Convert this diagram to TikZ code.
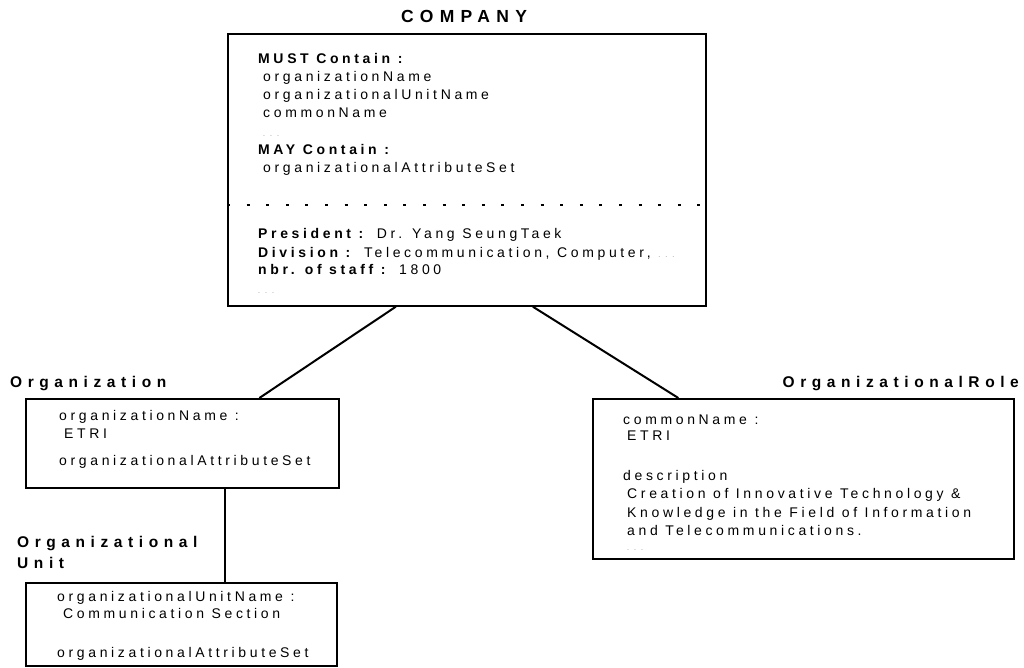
\documentclass[tikz,border=0pt]{standalone}
\usepackage{fontspec}
\setmainfont{Liberation Sans}
\newfontfamily\bodyfont[LetterSpace=26]{Liberation Sans}
\newfontfamily\titlefont[LetterSpace=36]{Liberation Sans}
\usepackage{tikz}
\usetikzlibrary{calc}
\newcommand{\moredots}{{\fontsize{7}{7}\selectfont\color{gray}. . .}}
\tikzstyle{box} = [rectangle, draw, line width=1.7pt, anchor=north west, inner sep=0pt]
\tikzstyle{attr} = [anchor=base west, inner sep=0pt, font=\bodyfont\fontsize{14}{18}\selectfont]
\tikzstyle{key} = [attr, font=\bodyfont\bfseries\fontsize{14}{18}\selectfont]
\tikzstyle{title} = [anchor=base west, inner sep=0pt, font=\titlefont\bfseries\fontsize{15.5}{20}\selectfont]
\tikzstyle{line} = [draw, line width=2pt]

\begin{document}
\begin{tikzpicture}[x=1pt, y=-1pt]
      \useasboundingbox (0,0) rectangle (1024,668);
      % Boxes
      \node [box, minimum width=478pt, minimum height=272pt] (company) at (227,33) {};
      \node [box, minimum width=313pt, minimum height=89pt] (organization) at (25,398) {};
      \node [box, minimum width=311pt, minimum height=83pt] (unit) at (25,582) {};
      \node [box, minimum width=421pt, minimum height=160pt] (role) at (592,398) {};
      % Titles
      \node [title, anchor=base, font=\titlefont\bfseries\fontsize{17.5}{20}\selectfont] (company-title) at (464,23) {COMPANY};
      \node [title] (organization-title) at (10,387) {Organization};
      \node [title] (unit-title-1) at (17,547) {Organizational};
      \node [title] (unit-title-2) at (17,568) {Unit};
      \node [title, anchor=base east] (role-title) at (1019,387) {OrganizationalRole};
      % COMPANY contents
      \node [key] (must) at (258,64) {MUST Contain :};
      \foreach \y/\t [count=\i] in {82/organizationName, 100/organizationalUnitName, 118/commonName}
        \node [attr] (must-\i) at (263,\y) {\t};
      \node [attr] (must-dots) at (263,137) {\moredots};
      \node [key] (may) at (258,155) {MAY Contain :};
      \node [attr] (may-1) at (263,173) {organizationalAttributeSet};
      \draw [line width=2.8pt, dash pattern=on 3pt off 16.6pt] (company.west |- 0,205) -- (company.east |- 0,205);
      \node [attr] (president) at (258,239) {\textbf{President :} Dr. Yang SeungTaek};
      \node [attr] (division) at (258,257) {\textbf{Division :} Telecommunication, Computer, \moredots};
      \node [attr] (staff) at (258,274) {\textbf{nbr. of staff :} 1800};
      \node [attr] (company-dots) at (258,293) {\moredots};
      % Organization contents
      \node [attr] (org-name) at (59,420) {organizationName :};
      \node [attr] (org-value) at (64,438) {ETRI};
      \node [attr] (org-set) at (59,465) {organizationalAttributeSet};
      % Organizational Unit contents
      \node [attr] (unit-name) at (57,601) {organizationalUnitName :};
      \node [attr] (unit-value) at (63,618) {Communication Section};
      \node [attr] (unit-set) at (57,657) {organizationalAttributeSet};
      % OrganizationalRole contents
      \node [attr] (role-name) at (623,424) {commonName :};
      \node [attr] (role-value) at (627,440) {ETRI};
      \node [attr] (role-desc) at (623,480) {description};
      \foreach \y/\t [count=\i] in {498/Creation of Innovative Technology \&, 517/Knowledge in the Field of Information, 535/and Telecommunications.}
        \node [attr] (desc-\i) at (627,\y) {\t};
      \node [attr] (role-dots) at (627,550) {\moredots};
      % Draw edges
      \path [line] ($(company.south)+(-71,0)$) -- ($(organization.north)+(77,0)$);
      \path [line] ($(company.south)+(66,0)$) -- ($(role.north)+(-125,0)$);
      \path [line] ($(organization.south)+(43,0)$) -- ($(unit.north)+(44,0)$);
  \end{tikzpicture}
\end{document}
